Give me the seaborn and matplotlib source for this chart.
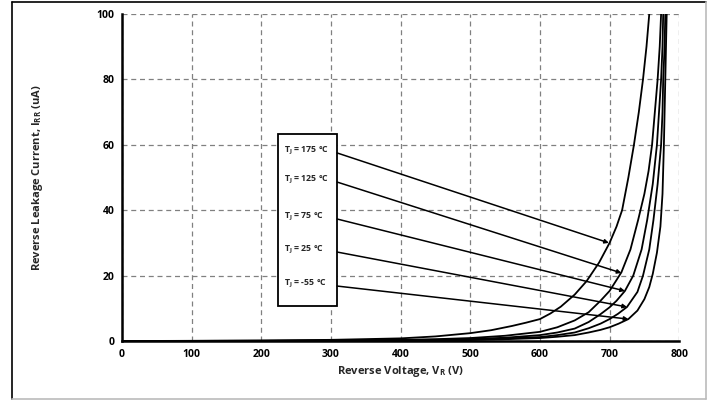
import pandas as pd
import matplotlib.pyplot as plt
import seaborn as sns
from matplotlib.patches import Rectangle
from matplotlib.lines import Line2D

# data (V in volts, I in uA)
v_175 = [0, 100, 200, 300, 400, 450, 500, 530, 560, 580, 600, 615, 630, 650, 667, 685, 700, 710, 718, 727, 735, 742, 748, 753, 757]
i_175 = [0, 0.05, 0.15, 0.35, 0.8, 1.4, 2.4, 3.3, 4.6, 5.6, 6.7, 8.4, 10.5, 14.2, 18.3, 24, 30, 35, 40, 50, 60, 70, 80, 90, 100]

v_125 = [0, 200, 300, 400, 450, 500, 550, 600, 625, 650, 670, 687, 700, 717, 730, 741, 750, 756, 761, 765, 769, 772, 774]
i_125 = [0, 0.08, 0.15, 0.35, 0.55, 0.9, 1.6, 2.8, 4.2, 6.3, 8.8, 12.3, 15.3, 21, 28, 37, 45, 52, 60, 70, 80, 90, 100]

v_75 = [0, 200, 300, 400, 450, 500, 550, 600, 625, 650, 670, 687, 700, 710, 722, 734, 746, 754, 762, 768, 771, 774, 776, 777]
i_75 = [0, 0.05, 0.1, 0.25, 0.4, 0.6, 1.0, 1.8, 2.6, 3.8, 5.8, 8.2, 10.3, 12.3, 15.3, 20, 28, 37, 48, 60, 70, 80, 90, 100]

v_25 = [0, 200, 300, 400, 450, 500, 550, 600, 625, 650, 670, 687, 700, 712, 725, 740, 748, 757, 763, 769, 774, 776, 777, 779, 780]
i_25 = [0, 0.03, 0.07, 0.18, 0.3, 0.45, 0.75, 1.2, 1.8, 2.6, 3.9, 5.3, 6.7, 8.3, 10.4, 15, 20, 28, 37, 48, 60, 70, 80, 90, 100]

v_m55 = [0, 200, 300, 400, 450, 500, 550, 600, 625, 650, 670, 687, 700, 713, 727, 740, 750, 757, 762, 768, 773, 776, 778, 780, 781, 782]
i_m55 = [0, 0.02, 0.05, 0.12, 0.2, 0.3, 0.55, 0.9, 1.3, 1.8, 2.6, 3.4, 4.2, 5.3, 6.7, 9.3, 12.8, 16.5, 20.5, 27, 35, 45, 60, 80, 90, 100]

curves = [(v_175, i_175, "175"), (v_125, i_125, "125"), (v_75, i_75, "75"),
          (v_25, i_25, "25"), (v_m55, i_m55, "-55")]

labels = ["T$_\\mathrm{J}$ = 175 °C", "T$_\\mathrm{J}$ = 125 °C", "T$_\\mathrm{J}$ = 75 °C",
          "T$_\\mathrm{J}$ = 25 °C", "T$_\\mathrm{J}$ = -55 °C"]
arrow_start_y = [57.5, 48.6, 37.3, 27.2, 16.8]
arrow_tip_x = [699, 717, 722, 725, 727]
arrow_tip_y = [30, 20.8, 15.3, 10.4, 6.7]

FONT = 'Open Sans'

sns.set_style("white")
plt.rcParams['font.family'] = [FONT, 'DejaVu Sans']
plt.rcParams['font.weight'] = 'bold'
plt.rcParams['mathtext.fontset'] = 'custom'
plt.rcParams['mathtext.rm'] = FONT + ':bold'
plt.rcParams['mathtext.it'] = FONT + ':bold'
plt.rcParams['mathtext.bf'] = FONT + ':bold'

fig = plt.figure(figsize=(7.09, 4.0), dpi=100)
ax = fig.add_axes([0.172, 0.1475, 0.786, 0.8175])

frames = []
for v, i, t in curves:
    frames.append(pd.DataFrame({"V": v, "I": i, "T": t}))
df = pd.concat(frames, ignore_index=True)

sns.lineplot(data=df, x="V", y="I", units="T", estimator=None, sort=False,
             color="black", lw=1.3, ax=ax, zorder=3)

ax.set_xlim(0, 800)
ax.set_ylim(0, 100)
ax.set_xticks(range(0, 801, 100))
ax.set_yticks(range(0, 101, 20))
ax.grid(True, color="#808080", ls=(0, (4, 3)), lw=0.9)
ax.set_axisbelow(True)

for s in ["top", "right"]:
    ax.spines[s].set_visible(False)
for s in ["left", "bottom"]:
    ax.spines[s].set_color("black")
    ax.spines[s].set_linewidth(1.8)

ax.tick_params(direction="inout", length=5, width=1.2, labelsize=7.5, colors="black", pad=3)
for lab in ax.get_xticklabels() + ax.get_yticklabels():
    lab.set_fontweight("bold")

ax.set_xlabel("Reverse Voltage, V$_\\mathrm{R}$ (V)", fontsize=8, fontweight="bold", labelpad=3)
ax.set_ylabel("Reverse Leakage Current, I$_\\mathrm{RR}$ (uA)", fontsize=8, fontweight="bold", labelpad=37)

# label box
ax.add_patch(Rectangle((224, 10.7), 85, 52.5, facecolor="white", edgecolor="black",
                       lw=1.3, zorder=4))
for lab, ys, tx, ty in zip(labels, arrow_start_y, arrow_tip_x, arrow_tip_y):
    ax.text(232, ys + 0.8, lab, fontsize=6.3, fontweight="bold", va="center", ha="left", zorder=5)
    ax.annotate("", xy=(tx, ty), xytext=(309, ys),
                arrowprops=dict(arrowstyle="-|>", color="black", lw=1.1,
                                mutation_scale=6, shrinkA=0, shrinkB=0),
                zorder=5)

# outer frame
fig.add_artist(Line2D([0.017, 0.017], [0.003, 0.996], transform=fig.transFigure, color="black", lw=1.2))
fig.add_artist(Line2D([0.017, 0.996], [0.996, 0.996], transform=fig.transFigure, color="black", lw=1.2))
fig.add_artist(Line2D([0.996, 0.996], [0.003, 0.996], transform=fig.transFigure, color="#bbbbbb", lw=1.2))
fig.add_artist(Line2D([0.017, 0.996], [0.003, 0.003], transform=fig.transFigure, color="#bbbbbb", lw=1.2))

fig.savefig("out.png", dpi=100)
